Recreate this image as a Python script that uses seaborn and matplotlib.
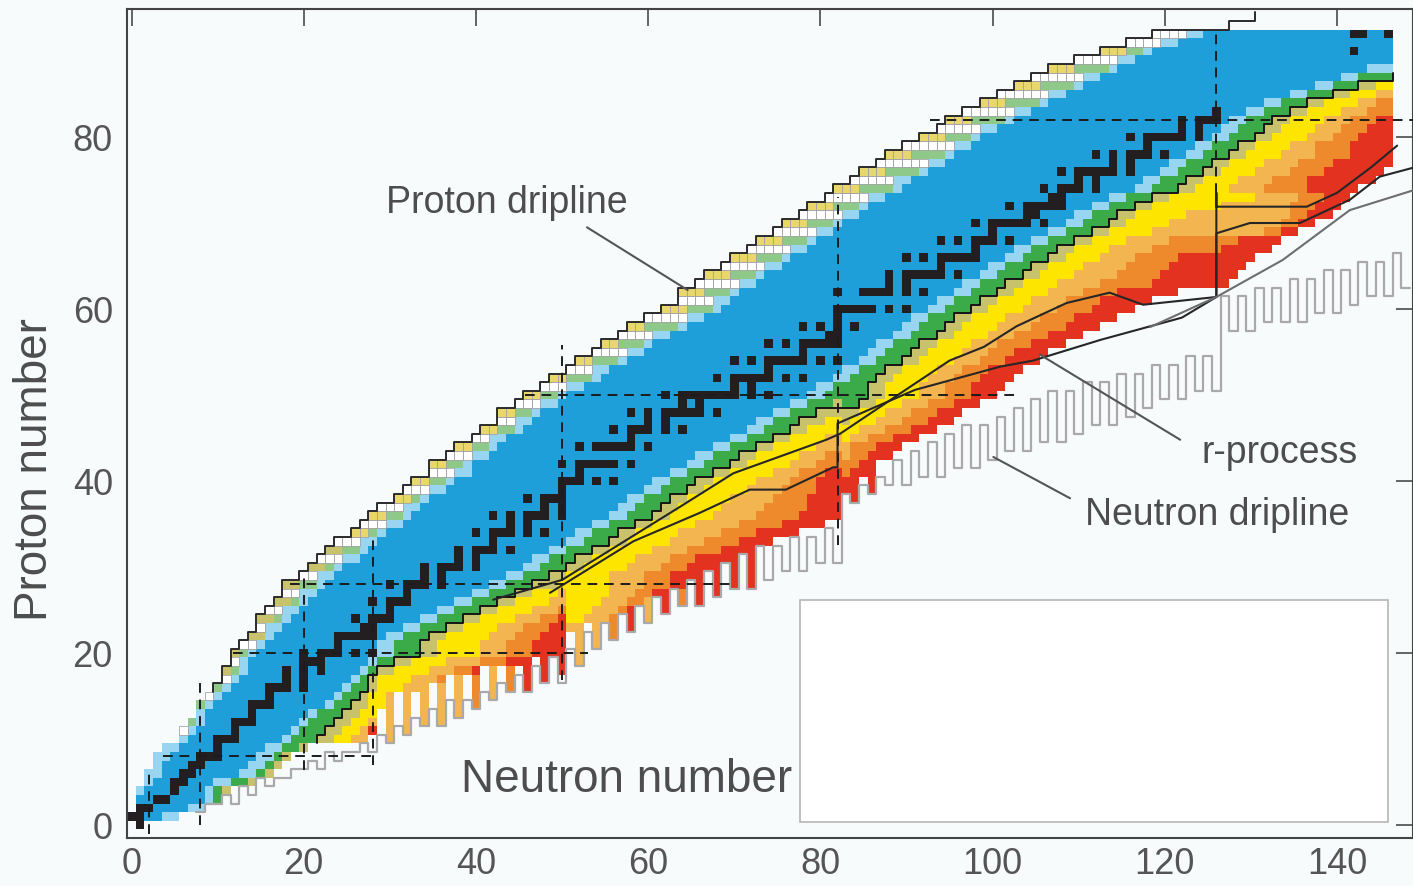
import numpy as np
import matplotlib
matplotlib.use("Agg")
import matplotlib.pyplot as plt
from matplotlib.colors import ListedColormap
from matplotlib.patches import Rectangle
from matplotlib.collections import PatchCollection
import seaborn as sns

# cell colours of the chart
palette = {
    "B": "#1f9fd9",  # blue
    "l": "#97d5f0",  # light blue
    "g": "#3bab4a",  # green
    "m": "#8ec98a",  # pale green, proton side
    "k": "#c9c26c",  # khaki
    "y": "#fde500",  # yellow
    "a": "#f2b550",  # light orange
    "o": "#ee8a2c",  # orange
    "r": "#e3321f",  # red
    "t": "#e9d76c",  # tan, proton side
    "w": "#ffffff",  # white, proton side
    "X": "#231f20",  # stable
}

# one row per proton number Z = 0..92: first N, then colour + last N of each run
rows = [
    "1 B1",
    "0 B3 l5",
    "1 B6 l8",
    "1 B8 l9 g10",
    "1 l1 B8 l9 g10 k11",
    "2 l2 B9 l11 g13 k14",
    "2 l3 B12 l14 g15 k16",
    "3 l3 B13 l15 g16 k17",
    "3 l4 B14 l16 g17 k18",
    "4 l5 B15 l17 g19 k20",
    "6 l6 B17 l18 g21 k23 y25 a27",
    "6 w6 l7 B18 l19 g22 k24 y26 a27 r28",
    "7 m7 l8 B19 l20 g23 k25 y27 a28",
    "8 l8 B20 l21 g24 k26 y28",
    "8 m8 l9 B22 l23 g25 k27 y29",
    "9 w9 l10 B23 l24 g26 k27 y29 a30",
    "10 m10 l11 B24 l25 g27 k28 y31 a33",
    "11 w11 l12 B25 l26 g27 k28 y32 a35 o36",
    "11 k11 m12 l13 B26 l27 g28 k30 y34 a37 o39 r40",
    "12 w12 l13 B27 l28 g30 k32 y36 a40 o43 r45",
    "12 k12 m13 l14 B28 l30 g33 k35 y40 a43 o46 r50",
    "13 w14 l15 B28 l30 g33 k35 y40 a43 o46 r50",
    "14 k15 l16 B29 l31 g34 k36 y41 a44 o47 r50",
    "15 w15 l17 B31 l33 g36 k38 y42 a45 o48 r50 a52",
    "15 k16 m17 l18 B33 l35 g38 k40 y44 a47 o49 r50 y52 a55",
    "16 w17 l19 B35 l37 g40 k42 y46 a49 o50 y53 a56 o57",
    "17 k18 m19 l20 B37 l39 g42 k44 y48 a50 y54 a57 o59",
    "18 w19 l21 B39 l41 g44 k46 y49 a50 y55 a58 o60 r61",
    "18 k19 m21 l22 B41 l43 g46 k49 y55 a59 o62 r64",
    "20 w21 l23 B43 l45 g48 k50 y55 a59 o62 r65",
    "21 k22 m23 l24 B45 l47 g50 k52 y57 a61 o64 r67",
    "22 w24 l26 B46 l48 g51 k53 y58 a62 o65 r69",
    "23 k24 m26 l27 B48 l50 g53 k55 y60 a64 o68 r72",
    "24 w26 l28 B50 l52 g55 k57 y62 a66 o70 r74",
    "26 t27 m28 l29 B51 l53 g56 k58 y63 a68 o72 r77",
    "27 w29 l31 B53 l55 g58 k60 y65 a70 o75 r80",
    "28 t29 m31 l32 B55 l57 g60 k62 y67 a72 o77 r82",
    "29 w31 l33 B56 l58 g61 k63 y68 a73 o78 r82",
    "31 t32 m33 l34 B57 l59 g62 k64 y69 a74 o78 r82",
    "32 w34 l36 B59 l61 g64 k66 y71 a75 o79 r83",
    "33 t34 m36 l37 B60 l62 g65 k67 y72 a76 o79 r84",
    "35 w37 l39 B62 l64 g67 k69 y74 a77 o80 r82 o83 r85",
    "35 t36 m38 l39 B64 l66 g69 k71 y76 a79 o84 r86",
    "37 w39 l41 B65 l67 g70 k72 y77 a80 o82 a83 o85 r88",
    "38 t39 m41 l42 B67 l69 g72 k74 y79 a83 o86 r89",
    "40 w41 l43 B69 l71 g74 k76 y80 a82 y83 a85 o88 r91",
    "41 t42 m44 l45 B71 l73 g76 k78 y84 a87 o90 r93",
    "43 w44 l46 B72 l74 g77 k80 y82 k83 y86 a89 o92 r95",
    "43 t44 m46 l47 B74 l76 g79 k84 y87 a90 o93 r96",
    "45 w47 l49 B76 l78 g81 k82 g84 k86 y89 a92 o95 r98",
    "46 t47 m49 l50 B78 l80 g85 k87 y91 a94 o97 r100",
    "48 w50 l52 B79 l81 g85 k87 y91 a94 o97 r101",
    "49 t50 m53 l54 B81 l83 g86 k88 y92 a95 o98 r102",
    "51 w53 l55 B82 l84 g87 k89 y93 a96 o99 r103",
    "52 t53 m56 l57 B84 l86 g89 k91 y95 a98 o101 r105",
    "54 w57 l59 B85 l87 g90 k92 y96 a99 o102 r106",
    "55 t56 m59 l60 B86 l88 g91 k93 y97 a100 o104 r108",
    "57 w60 l62 B88 l90 g93 k95 y99 a102 o106 r110",
    "58 t59 m63 l64 B89 l91 g94 k96 y100 a104 o108 r112",
    "60 w64 l66 B90 l92 g95 k97 y101 a105 o109 r114",
    "62 t64 m67 l68 B92 l94 g97 k99 y103 a107 o111 r116",
    "64 w67 l69 B93 l95 g98 k100 y104 a108 o112 r118",
    "64 t66 m69 l70 B95 l97 g100 k102 y106 a110 o114 r121",
    "66 w70 l72 B96 l98 g101 k103 y107 a112 o118 r127",
    "67 t69 m72 l73 B98 l100 g103 k105 y109 a114 o119 r128",
    "69 w73 l75 B99 l101 g104 k106 y110 a115 o120 r129",
    "70 t72 m75 l76 B101 l103 g106 k108 y112 a116 o121 r130",
    "72 w76 l78 B102 l104 g107 k109 y113 a118 o126 r132",
    "73 t75 m78 l79 B104 l106 g109 k111 y115 a120 o128 r133",
    "75 w79 l81 B106 l108 g111 k113 y118 a131 o133 r135",
    "76 t78 m81 l82 B108 l110 g113 k115 y120 a133 o135 r137",
    "78 w82 l84 B109 l111 g114 k116 y122 a134 o136 r139",
    "79 t81 m84 l85 B111 l113 g116 k118 y126 a134 o137 r140",
    "81 w85 l87 B113 l115 g118 k120 y130 a135 o138 r141",
    "82 t84 m88 l89 B116 l118 g121 k123 y127 a131 o136 r142",
    "84 w88 l90 B117 l119 g122 k124 y128 a132 o136 r144",
    "85 t87 m91 l92 B119 l121 g124 k126 y130 a134 o138 r145",
    "87 w92 l94 B120 l122 g125 k127 y131 a135 o139 r146",
    "88 t90 m94 l95 B122 l124 g127 k129 y133 a137 o141 r146",
    "90 w95 l97 B123 l125 g128 k130 y134 a137 o141 r146",
    "92 t94 m97 l98 B125 l127 g130 k132 y136 a139 o142 r146",
    "94 w98 l100 B126 l128 g131 k133 y137 a140 o143 r146",
    "95 t97 m101 l102 B127 l129 g132 k134 y138 a141 o144 r146",
    "97 w102 l104 B129 l131 g134 k136 y140 a143 o146",
    "99 t101 m105 l106 B131 l133 g136 k138 y142 a144 o146",
    "101 w106 l108 B134 l136 g139 k141 y144 a146",
    "103 t105 m109 l110 B137 l139 g142 k144 y146",
    "105 w110 l112 B140 l142 g146",
    "107 t109 m113 l114 B143 l146",
    "110 w114 l116 B146",
    "113 t115 m117 l118 B146",
    "116 w119 l121 B146",
    "119 w122 l124 B146",
]

# stable nuclides: Z -> neutron numbers
stable = {
    0: [1], 1: [0, 1], 2: [1, 2], 3: [3, 4], 4: [5], 5: [5, 6], 6: [6, 7], 7: [7, 8],
    8: [8, 9, 10], 9: [10], 10: [10, 11, 12], 11: [12], 12: [12, 13, 14], 13: [14],
    14: [14, 15, 16], 15: [16], 16: [16, 17, 18, 20], 17: [18, 20], 18: [18, 20, 22],
    19: [20, 21, 22], 20: [20, 22, 23, 24, 26, 28], 21: [24], 22: [24, 25, 26, 27, 28],
    23: [27, 28], 24: [26, 28, 29, 30], 25: [30], 26: [28, 30, 31, 32], 27: [32],
    28: [30, 32, 33, 34, 36], 29: [34, 36], 30: [34, 36, 37, 38, 40], 31: [38, 40],
    32: [38, 40, 41, 42, 44], 33: [42], 34: [40, 42, 43, 44, 46, 48], 35: [44, 46],
    36: [42, 44, 46, 47, 48, 50], 37: [48, 50], 38: [46, 48, 49, 50], 39: [50],
    40: [50, 51, 52, 54, 56], 41: [52], 42: [50, 52, 53, 54, 55, 56, 58],
    44: [52, 54, 55, 56, 57, 58, 60], 45: [58], 46: [56, 58, 59, 60, 62, 64],
    47: [60, 62], 48: [58, 60, 62, 63, 64, 65, 66, 68], 49: [64, 66],
    50: [62, 64, 65, 66, 67, 68, 69, 70, 72, 74], 51: [70, 72],
    52: [68, 70, 71, 72, 73, 74, 76, 78], 53: [74], 54: [70, 72, 74, 75, 76, 77, 78, 80, 82],
    55: [78], 56: [74, 76, 78, 79, 80, 81, 82], 57: [81, 82], 58: [78, 80, 82, 84],
    59: [82], 60: [82, 83, 84, 85, 86, 88, 90], 62: [82, 85, 86, 87, 88, 90, 92],
    63: [88, 90], 64: [88, 90, 91, 92, 93, 94, 96], 65: [94],
    66: [90, 92, 94, 95, 96, 97, 98], 67: [98], 68: [94, 96, 98, 99, 100, 102],
    69: [100], 70: [98, 100, 101, 102, 103, 104, 106], 71: [104, 105],
    72: [102, 104, 105, 106, 107, 108], 73: [107, 108], 74: [106, 108, 109, 110, 112],
    75: [110, 112], 76: [108, 110, 111, 112, 113, 114, 116], 77: [114, 116],
    78: [112, 114, 116, 117, 118, 120], 79: [118], 80: [116, 118, 119, 120, 121, 122, 124],
    81: [122, 124], 82: [122, 124, 125, 126], 83: [126], 90: [142], 92: [142, 143, 146],
}

# comb teeth below the neutron-rich edge: (N, lowest Z, colour)
teeth = [
    (30, 10, "a"), (32, 11, "a"), (34, 12, "a"), (36, 12, "a"), (38, 13, "a"),
    (40, 14, "o"), (42, 15, "a"), (44, 16, "o"), (46, 16, "r"), (48, 17, "r"), (50, 18, "r"),
    (52, 19, "a"), (54, 21, "a"), (56, 22, "o"), (58, 23, "r"), (60, 24, "a"),
    (62, 25, "r"), (64, 26, "o"), (66, 26, "r"), (68, 27, "r"), (70, 28, "r"), (72, 28, "r"),
    (84, 38, "r"), (86, 39, "r"),
]

# neutron dripline: lowest bound Z for N = 8..148
drip_n0 = 8
drip_z = [
    2, 3, 3, 4, 3, 5, 4, 6, 5, 6, 6, 7, 7, 8, 7, 9, 8, 9, 9, 10,
    9, 11, 10, 12, 11, 13, 12, 14, 12, 15, 13, 15, 14, 16, 15, 17, 16, 18, 16, 19,
    17, 20, 17, 21, 19, 23, 21, 24, 22, 25, 23, 26, 24, 27, 25, 28, 26, 29, 26, 30,
    27, 31, 28, 32, 28, 33, 29, 33, 30, 34, 30, 34, 31, 35, 31, 39, 38, 40, 39, 41,
    40, 43, 40, 44, 41, 45, 41, 46, 42, 47, 42, 47, 43, 48, 44, 49, 44, 50, 45, 51,
    45, 51, 46, 52, 47, 52, 47, 53, 48, 53, 49, 54, 50, 54, 50, 55, 51, 55, 51, 62,
    58, 62, 58, 63, 59, 63, 59, 64, 59, 64, 60, 65, 60, 65, 61, 66, 62, 66, 62, 67,
    63,
]

# proton dripline above the last row (Z = 93, 94)
pdrip_top = [128, 131]

# magic numbers: (value, from, to)
magic_n = [(2, -1, 6), (8, 0, 16.5), (20, 6.4, 29), (28, 7, 33.7), (50, 16.9, 55.8),
           (82, 32.6, 73), (126, 73.5, 92.5)]
magic_z = [(8, 3.7, 28.5), (20, 11.8, 53), (28, 18.4, 70), (50, 45.7, 102.6), (82, 92.7, 150)]

# path lines (N, Z)
path_a_n = [42.0, 50.0, 63.7, 69.9, 80.7, 82.3, 89.3, 95.0, 99.0, 102.8, 108.6, 113.6, 117.5, 126.0]
path_a_z = [26.2, 28.5, 37.0, 40.9, 44.8, 45.5, 50.2, 54.0, 55.6, 58.0, 60.7, 61.9, 60.5, 61.4]
path_b_n = [48.6, 58.3, 66.0, 71.8, 76.0, 81.5, 82.0, 82.0, 91.0, 100.9, 104.7, 112.5, 122.0,
            126.0, 126.0, 129.9, 135.7, 141.5, 145.0, 149.5]
path_b_z = [27.0, 33.0, 36.3, 39.0, 39.0, 41.6, 41.6, 46.7, 50.6, 53.3, 54.0, 56.4, 59.0,
            61.4, 68.8, 70.0, 70.0, 72.7, 75.4, 76.6]
path_c_n = [126.0, 126.0, 126.0, 136.5, 140.0, 144.0, 147.0]
path_c_z = [61.4, 73.5, 71.9, 71.9, 73.5, 76.5, 79.0]
path_d_n = [118.3, 126.0, 133.7, 141.5, 149.5]
path_d_z = [57.9, 61.4, 65.7, 71.5, 74.0]

labels = [
    ("Proton dripline", 43.6, 72.3, [52.9, 64.6], [69.5, 62.2]),
    ("r-process", 133.3, 43.3, [105.5, 121.8], [54.7, 44.8]),
    ("Neutron dripline", 126.1, 36.0, [100.1, 109.0], [42.8, 38.0]),
]

# ---------------------------------------------------------------- build grid
codes = list(palette)
cidx = {c: i for i, c in enumerate(codes)}
nz, nn = len(rows), 149
grid = np.full((nz, nn), np.nan)
p_edge = []
for z, spec in enumerate(rows):
    tok = spec.split()
    n = int(tok[0])
    p_edge.append(n)
    for t in tok[1:]:
        last = int(t[1:])
        grid[z, n:last + 1] = cidx[t[0]]
        n = last + 1

for n, z0, c in teeth:
    z = z0
    while z < nz and np.isnan(grid[z, n]) and z < z0 + 8:
        grid[z, n] = cidx[c]
        z += 1

for z, ns in stable.items():
    for n in ns:
        grid[z, n] = cidx["X"]

# ---------------------------------------------------------------- draw
sns.set_style("white")
plt.rcParams["font.family"] = ["Liberation Sans", "DejaVu Sans"]
bg = "#f8fbfc"
txt = "#4d4d4d"

fig = plt.figure(figsize=(14.13, 8.86), dpi=100, facecolor=bg)
ax = fig.add_axes([0.0897, 0.0538, 0.9103, 0.9357])
ax.set_facecolor(bg)

cmap = ListedColormap([palette[c] for c in codes])
sns.heatmap(grid, cmap=cmap, vmin=-0.5, vmax=len(codes) - 0.5, cbar=False, ax=ax,
            xticklabels=False, yticklabels=False)

# thin outlines round the pale proton-side cells
zz, nnn = np.where(np.isin(grid, [cidx["w"], cidx["t"]]))
boxes = [Rectangle((n, z), 1, 1) for z, n in zip(zz, nnn)]
ax.add_collection(PatchCollection(boxes, facecolor="none", edgecolor="#a5a5a5",
                                  linewidth=0.6, zorder=2))

off = 0.5  # cell N occupies [N, N+1] on the heatmap axes

# neutron dripline (comb)
xs, ys = [], []
for i, dz in enumerate(drip_z):
    n = drip_n0 + i
    xs += [n, n + 1]
    ys += [dz, dz]
ax.plot(xs, ys, color="#a9a9a9", lw=1.6, zorder=3)

# proton dripline
xs, ys = [], []
for z in range(16, nz):
    xs += [p_edge[z], p_edge[z]]
    ys += [z, z + 1]
for j, n in enumerate(pdrip_top):
    xs += [n, n]
    ys += [nz + j, nz + j + 1]
ax.plot(xs, ys, color="#2b2b2b", lw=1.4, zorder=3)

# limit of the green band on the neutron side
xs, ys = [], []
for z in range(10, 90):
    idx = np.where(grid[z] == cidx["g"])[0]
    if idx.size:
        e = idx.max() + 1
        xs += [e, e]
        ys += [z, z + 1]
ax.plot(xs, ys, color="#151515", lw=1.4, zorder=3)

for pn, pz, col in [(path_a_n, path_a_z, "#262626"), (path_b_n, path_b_z, "#262626"),
                    (path_c_n, path_c_z, "#262626"), (path_d_n, path_d_z, "#6e6e6e")]:
    ax.plot(np.array(pn) + off, np.array(pz) + off, color=col, lw=1.5, zorder=4)

for v, a, b in magic_n:
    ax.plot([v + off, v + off], [a + off, b + off], color="#1c1c1c", lw=1.4,
            dashes=(5, 3.5), zorder=4)
for v, a, b in magic_z:
    ax.plot([a + off, b + off], [v + off, v + off], color="#1c1c1c", lw=1.4,
            dashes=(5, 3.5), zorder=4)

for s, tx, ty, lx, ly in labels:
    ax.plot(np.array(lx) + off, np.array(ly) + off, color="#555555", lw=1.5, zorder=4)
    ax.text(tx + off, ty + off, s, fontsize=27, color=txt, ha="center", va="center", zorder=6)

ax.add_patch(Rectangle((77.6 + off, 0.35 + off), 68.3, 25.85, facecolor="white",
                       edgecolor="#b5b5b5", lw=1.2, zorder=5))
ax.text(57.5 + off, 5.2 + off, "Neutron number", fontsize=33, color=txt,
        ha="center", va="center", zorder=6)
fig.text(0.0248, 0.4695, "Proton number", fontsize=33, color=txt, rotation=90,
         ha="center", va="center")

ax.set_xlim(-0.557 + off, 148.84 + off)
ax.set_ylim(-1.547 + off, 94.85 + off)
xt = [0, 20, 40, 60, 80, 100, 120, 140]
yt = [0, 20, 40, 60, 80]
ax.set_xticks(np.array(xt) + off)
ax.set_xticklabels([str(v) for v in xt])
ax.set_yticks(np.array(yt) + off)
ax.set_yticklabels([str(v) for v in yt], rotation=0)
ax.tick_params(direction="in", top=True, right=True, length=12.5, width=1.1,
               color="#3a3a3a", labelsize=26, labelcolor="#555555")
ax.tick_params(axis="x", pad=6)
ax.tick_params(axis="y", pad=10)
for sp in ax.spines.values():
    sp.set_visible(True)
    sp.set_color("#444444")
    sp.set_linewidth(1.5)

fig.savefig("out.png", dpi=100, facecolor=bg)
